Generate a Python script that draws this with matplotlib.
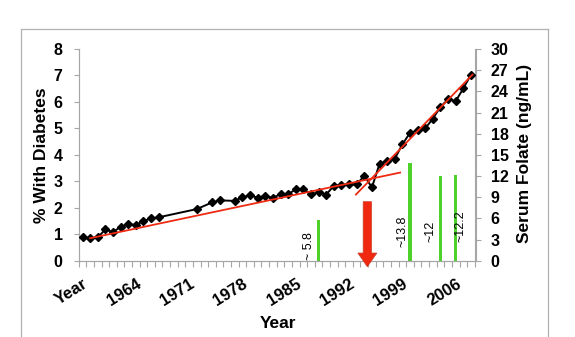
import matplotlib
matplotlib.use("Agg")
import matplotlib.pyplot as plt
from matplotlib.patches import FancyArrow
from matplotlib.lines import Line2D
import numpy as np

plt.rcParams['font.family'] = ['Liberation Sans', 'DejaVu Sans']
plt.rcParams['font.weight'] = 'bold'

# ---- data ----
categories = ["Year"] + [str(y) for y in range(1958, 2009)]
diabetes_pct = [0.88, 0.85, 0.88, 1.18, 1.08, 1.28, 1.38, 1.35, 1.50, 1.60,
                1.64, None, None, None, None, 1.95, None, 2.20, 2.28, None,
                2.26, 2.40, 2.47, 2.38, 2.45, 2.37, 2.52, 2.51, 2.70, 2.70,
                2.51, 2.58, 2.50, 2.83, 2.86, 2.88, 2.88, 3.21, 2.77, 3.66,
                3.78, 3.85, 4.40, 4.83, 4.93, 5.00, 5.37, 5.81, 6.10, 6.03,
                6.51, 7.03]
folate_cats = ["1988", "2000", "2004", "2006"]
folate_vals = [5.8, 13.8, 12.0, 12.2]
folate_labels = ["~ 5.8", "~13.8", "~12", "~12.2"]
trend1_pos = [1.0, 41.7]
trend1_vals = [0.85, 3.33]
trend2_pos = [35.9, 51.2]
trend2_vals = [2.50, 7.03]
arrow_cat = "1994"
label_every = 7

# ---- figure ----
W, H = 575, 337
fig = plt.figure(figsize=(W / 100, H / 100), dpi=100)
ax = fig.add_axes([78.7 / W, 1 - 260.7 / H, (475.5 - 78.7) / W, (260.7 - 49) / H])
ax2 = ax.twinx()

xs = [i for i, v in enumerate(diabetes_pct) if v is not None]
ys = [v for v in diabetes_pct if v is not None]

gray = '#a6a6a6'
green = '#4fd12b'

# folate bars
bx = [categories.index(c) for c in folate_cats]
ax2.bar(bx, folate_vals, width=0.4, color=green, zorder=2)
offsets = [-1.3, -1.0, -1.35, 0.6]
bottoms = [0.1, 2.0, 2.7, 2.7]
for xi, lab, dx, b in zip(bx, folate_labels, offsets, bottoms):
    ax2.text(xi + dx, b, lab, rotation=90, ha='center', va='bottom',
             fontsize=9, fontweight='normal', color='black')

ax.set_zorder(ax2.get_zorder() + 1)
ax.patch.set_visible(False)

# diabetes line
ax.plot(xs, ys, color='black', lw=1.4, marker='D', markersize=4.0, zorder=3)
ax.plot(trend1_pos, trend1_vals, color='#ee2a12', lw=1.3, zorder=4)
ax.plot(trend2_pos, trend2_vals, color='#ee2a12', lw=1.3, zorder=4)

# red arrow
ai = categories.index(arrow_cat) + 0.4
arr = FancyArrow(ai, 2.23, 0, -2.46, width=1.1, head_width=2.5, head_length=0.52,
                 length_includes_head=True, facecolor='#f0280f',
                 edgecolor='#c8402a', lw=0.5, clip_on=False, zorder=6)
ax.add_patch(arr)

# axes styling
ax.set_xlim(-0.47, 51.6)
ax.set_ylim(0, 8)
ax2.set_ylim(0, 30)
ax.set_yticks(range(0, 9))
ax2.set_yticks(range(0, 31, 3))
tick_idx = list(range(0, len(categories), label_every))
ax.set_xticks(tick_idx)
ax.set_xticklabels([categories[i] for i in tick_idx], rotation=32, ha='right',
                   va='top', rotation_mode='anchor', fontsize=12, fontweight='bold')
ax.set_xticks(np.arange(-0.5, len(categories), 1), minor=True)
ax.tick_params(axis='x', which='major', length=0, pad=11)
ax.tick_params(axis='x', which='minor', length=4, color=gray, width=0.8)
ax.tick_params(axis='y', length=3.5, color=gray, width=0.8, pad=8, labelsize=11.5)
ax2.tick_params(axis='y', length=3.5, color=gray, width=0.8, pad=7.5, labelsize=11.5)
for a in (ax, ax2):
    for lab in a.get_yticklabels():
        lab.set_fontweight('bold')
    a.spines['top'].set_visible(False)
    for s in ('left', 'right', 'bottom'):
        a.spines[s].set_color(gray)
        a.spines[s].set_linewidth(0.8)

fig.text(42 / W, 1 - 155.5 / H, "% With Diabetes", rotation=90, ha='center',
         va='center', fontsize=12.5, fontweight='bold')
fig.text(524 / W, 1 - 153.3 / H, "Serum Folate (ng/mL)", rotation=90, ha='center',
         va='center', fontsize=12.5, fontweight='bold')
fig.text(278 / W, 1 - 324 / H, "Year", ha='center', va='center',
         fontsize=12.5, fontweight='bold')

# slide frame
fc = '#b0b0b0'
fig.add_artist(Line2D([20.7 / W, 20.7 / W], [0, 1 - 28.5 / H], color=fc, lw=0.9))
fig.add_artist(Line2D([548 / W, 548 / W], [0, 1 - 28.5 / H], color=fc, lw=0.9))
fig.add_artist(Line2D([20.7 / W, 548 / W], [1 - 28.5 / H, 1 - 28.5 / H], color=fc, lw=0.9))

fig.savefig("out.png", dpi=100)
